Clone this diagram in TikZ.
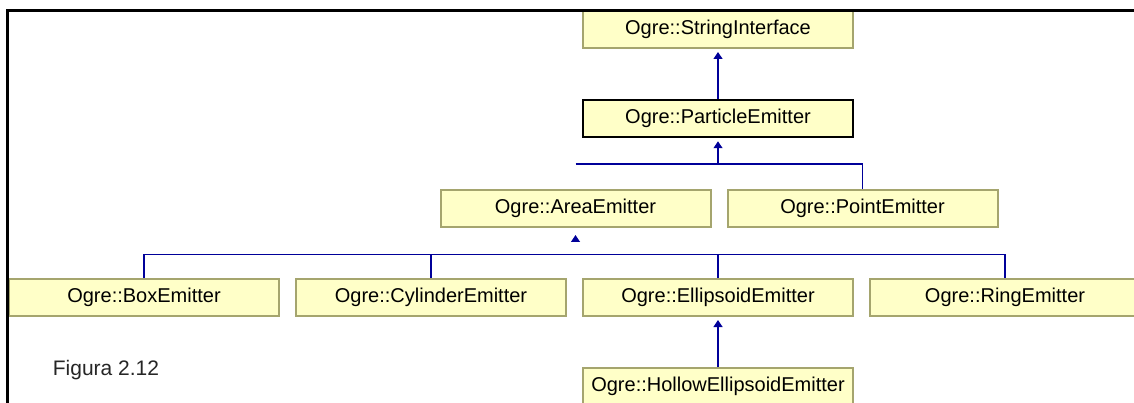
\documentclass[tikz,border=0pt]{standalone}
\usepackage{fontspec}
\setmainfont{Liberation Sans}
\usetikzlibrary{arrows.meta}
\definecolor{boxfill}{RGB}{255,255,200}
\definecolor{boxline}{RGB}{165,165,110}
\definecolor{navy}{RGB}{0,0,153}
\tikzset{
  cls/.style={draw=boxline, line width=2pt, fill=boxfill, minimum width=270pt, minimum height=37pt, inner sep=0pt, font=\fontsize{20}{23}\selectfont},
  sel/.style={cls, draw=black, line width=2.5pt},
  conn/.style={draw=navy, line width=1.2pt},
  inh/.style={conn, -{Triangle[width=9pt,length=7pt]}, shorten >=3pt},
}
\begin{document}
\begin{tikzpicture}[x=1pt,y=-1pt]
\useasboundingbox (0,0) rectangle (1134,403);
\begin{scope}
\clip (0,0) rectangle (1134,403);
\node[cls] (si) at (718,29.5) {Ogre::StringInterface};
\node[sel] (pe) at (718,118.5) {Ogre::ParticleEmitter};
\node[cls] (area) at (575.5,208.5) {Ogre::AreaEmitter};
\node[cls] (point) at (862.5,208.5) {Ogre::PointEmitter};
\node[cls] (box) at (144,297.5) {Ogre::BoxEmitter};
\node[cls] (cyl) at (431,297.5) {Ogre::CylinderEmitter};
\node[cls] (ell) at (718,297.5) {Ogre::EllipsoidEmitter};
\node[cls] (ring) at (1005,297.5) {Ogre::RingEmitter};
\node[cls] (hollow) at (718,386.5) {Ogre::HollowEllipsoidEmitter};
\node[font=\fontsize{21}{24}\selectfont, text=black!85] (fig) at (106,370) {Figura 2.12};

\draw[inh] (pe.north) -- (si.south);
\coordinate (j1) at (575.5,164);
\draw[inh] (pe.south |- j1) -- (pe.south);
\draw[conn] (j1) -| (point.north);
\coordinate (a1) at (575.5,239);
\draw[inh] (a1) -- ([yshift=-4pt]area.south);
\coordinate (j2) at (1005,254.5);
\draw[conn] (box.north) |- (j2) -- (ring.north);
\draw[conn] (cyl.north) -- (cyl.north |- j2);
\draw[conn] (ell.north) -- (ell.north |- j2);
\draw[inh] (hollow.north) -- (ell.south);

\draw[black, line width=3pt] (7.5,403) -- (7.5,10.5) -- (1134,10.5);
\end{scope}
\end{tikzpicture}
\end{document}
